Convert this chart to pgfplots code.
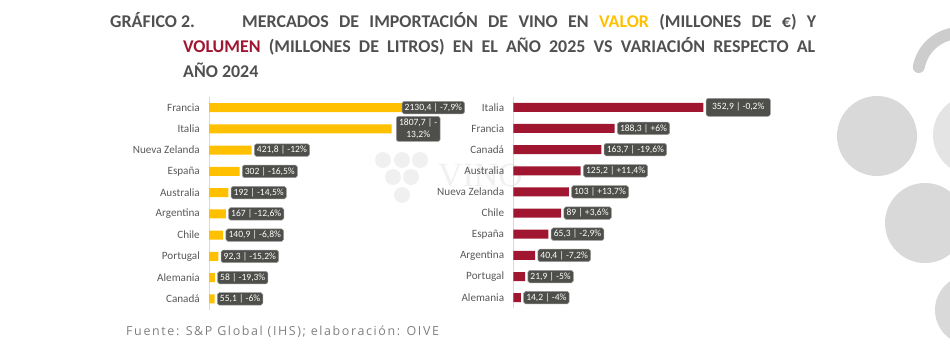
\documentclass[border=0pt]{standalone}
\usepackage{fontspec}
\setmainfont{Carlito}
\usepackage{pgfplots}
\pgfplotsset{compat=1.18}
\usepackage{pgfplotstable}
\newfontfamily\footfont[LetterSpace=13]{Open Sans}
\newfontfamily\serifwm{Liberation Serif}
\definecolor{gold}{HTML}{FFC000}
\definecolor{wine}{HTML}{A01631}
\definecolor{titlegray}{HTML}{505050}
\definecolor{catgray}{HTML}{595959}
\definecolor{boxgray}{HTML}{4E4E4A}
\definecolor{boxedge}{HTML}{9A9A9A}
\definecolor{deco}{HTML}{D9D9D9}
\definecolor{decolight}{HTML}{E4E4E4}
\definecolor{wm}{HTML}{F0F0F0}

% valor (millones de euros); lx = x position of the label box
\pgfplotstableread[col sep=semicolon]{
i;v;lab;lx
0;2130.4;2130,4 | -7,9;1885
1;1807.7;1807,7 | -13,2;1827
2;421.8;421,8 | -12;421.8
3;302;302 | -16,5;302
4;192;192 | -14,5;192
5;167;167 | -12,6;167
6;140.9;140,9 | -6,8;140.9
7;92.3;92,3 | -15,2;92.3
8;58;58 | -19,3;58
9;55.1;55,1 | -6;55.1
}\valor

% volumen (millones de litros)
\pgfplotstableread[col sep=semicolon]{
i;v;lab
0;352.9;352,9 | -0,2
1;188.3;188,3 | +6
2;163.7;163,7 | -19,6
3;125.2;125,2 | +11,4
4;103;103 | +13,7
5;89;89 | +3,6
6;65.3;65,3 | -2,9
7;40.4;40,4 | -7,2
8;21.9;21,9 | -5
9;14.2;14,2 | -4
}\volumen

\pgfplotsset{
  chartbase/.style={
    anchor=north west, scale only axis, clip=false,
    ymin=-0.5, ymax=9.5, y dir=reverse,
    axis lines*=left, hide x axis,
    ytick={0,...,9}, major tick length=0pt,
    y axis line style={draw=black!15, line width=0.8bp},
    yticklabel style={font=\fontsize{11.2}{13}\selectfont, text=catgray, inner sep=0pt, xshift=-9bp},
  },
  boxlabel/.style={
    nodes near coords style={anchor=west, xshift=2.5bp, fill=boxgray, draw=boxedge,
      line width=0.5bp, rounded corners=1.8bp, text=white,
      font=\fontsize{9.6}{10}\selectfont, inner xsep=2.6bp, inner ysep=2bp, minimum height=12.5bp},
  },
}

\begin{document}
\begin{tikzpicture}
\useasboundingbox (0,0) rectangle (950bp,-352bp);
% decoration (background logo)
\fill[deco] (877bp,-136bp) circle (40bp);
\fill[decolight] (973bp,-135bp) circle (40bp);
\fill[deco] (925bp,-223bp) circle (40bp);
\fill[deco] (970bp,-310bp) circle (35bp);
\draw[decolight!90!black, line width=12bp, line cap=round] (960bp,-75bp) ++(169:42bp) arc (169:95:42bp);
% watermark
\foreach \cx/\cy in {383/160,402/160,420/160,393/177,411/177,402/195}
  \fill[wm] (\cx bp,-\cy bp) circle (8bp);
\node[anchor=base west, text=wm, font=\serifwm\fontsize{34}{34}\selectfont, inner sep=0pt] at (438bp,-186bp) {VINO};
% title
\begin{scope}[every node/.style={anchor=base west, inner sep=0pt, text=titlegray, font=\bfseries\fontsize{18}{20}\selectfont}]
\node at (110bp,-27bp) {GRÁFICO 2.};
\node at (242bp,-27bp) {\makebox[574bp][s]{MERCADOS DE IMPORTACIÓN DE VINO EN \textcolor{gold}{VALOR} (MILLONES DE €) Y}};
\node at (183bp,-52.5bp) {\makebox[632bp][s]{\textcolor{wine}{VOLUMEN} (MILLONES DE LITROS) EN EL AÑO 2025 VS VARIACIÓN RESPECTO AL}};
\node at (183bp,-77bp) {AÑO 2024};
\end{scope}
% left chart: valor
\begin{axis}[chartbase, at={(209bp,-97bp)}, width=252.5bp, height=212.5bp,
  xmin=0, xmax=2500,
  yticklabels={Francia,Italia,Nueva Zelanda,España,Australia,Argentina,Chile,Portugal,Alemania,Canadá}]
\addplot[xbar, bar width=9bp, fill=gold, draw=none] table[x=v, y=i] {\valor};
\addplot[draw=none, boxlabel, point meta=explicit symbolic,
  nodes near coords={\pgfplotspointmeta\%},
  skip coords between index={1}{2}] table[x=lx, y=i, meta=lab] {\valor};
\addplot[draw=none, boxlabel, nodes near coords={1807,7 | -\\13,2\%},
  nodes near coords style={align=center, font=\fontsize{9.6}{11.5}\selectfont, inner sep=2.8bp}] coordinates {(1827,1)};
\end{axis}
% right chart: volumen
\begin{axis}[chartbase, at={(513.3bp,-96.7bp)}, width=242.3bp, height=211.6bp,
  xmin=0, xmax=450,
  yticklabels={Italia,Francia,Canadá,Australia,Nueva Zelanda,Chile,España,Argentina,Portugal,Alemania}]
\addplot[xbar, bar width=9bp, fill=wine, draw=none] table[x=v, y=i] {\volumen};
\addplot[draw=none, boxlabel, point meta=explicit symbolic,
  nodes near coords={\pgfplotspointmeta\%},
  skip coords between index={0}{1}] table[x=v, y=i, meta=lab] {\volumen};
\addplot[draw=none, boxlabel, point meta=explicit symbolic,
  nodes near coords={\pgfplotspointmeta\%},
  nodes near coords style={inner xsep=6bp, minimum height=18bp, rounded corners=2.5bp},
  skip coords between index={1}{10}] table[x=v, y=i, meta=lab] {\volumen};
\end{axis}
% footnote
\node[anchor=base west, inner sep=0pt, text=black!50, font=\footfont\fontsize{12.5}{14}\selectfont] at (126bp,-335bp) {Fuente: S\&P Global (IHS); elaboración: OIVE};
\end{tikzpicture}
\end{document}
